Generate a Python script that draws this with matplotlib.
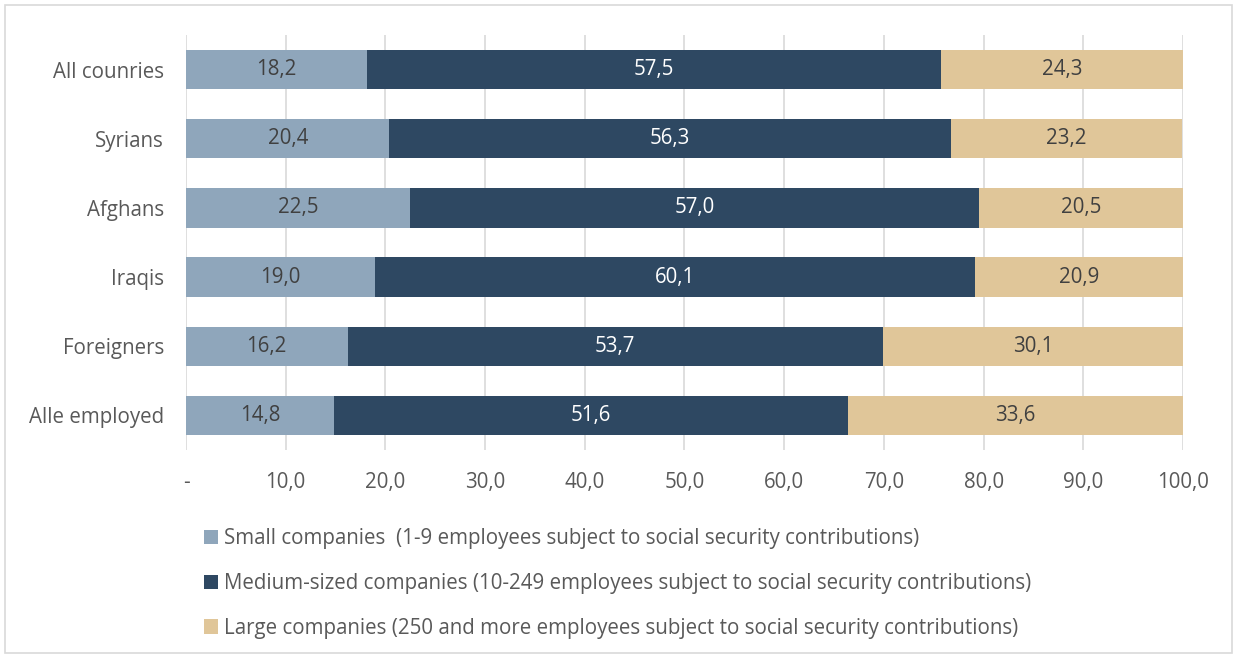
import matplotlib.pyplot as plt
from matplotlib.patches import Rectangle

plt.rcParams['font.family'] = ['Open Sans', 'DejaVu Sans']

groups = ['All counries', 'Syrians', 'Afghans', 'Iraqis', 'Foreigners', 'Alle employed']
small = [18.2, 20.4, 22.5, 19.0, 16.2, 14.8]
medium = [57.5, 56.3, 57.0, 60.1, 53.7, 51.6]
large = [24.3, 23.2, 20.5, 20.9, 30.1, 33.6]

series_names = [
    'Small companies  (1-9 employees subject to social security contributions)',
    'Medium-sized companies (10-249 employees subject to social security contributions)',
    'Large companies (250 and more employees subject to social security contributions)',
]
colors = ['#8FA6BB', '#2E4862', '#E0C699']
label_colors = ['#404040', 'white', '#404040']
txt = '#595959'
fs = 14.8

fig = plt.figure(figsize=(12.37, 6.56), dpi=100)
fig.patches.append(Rectangle((0.004, 0.004), 0.992, 0.988, transform=fig.transFigure,
                             fill=False, edgecolor='#D9D9D9', linewidth=1.2))
ax = fig.add_axes([0.1504, 0.314, 0.8059, 0.6326])

y = list(range(len(groups)))
left = [0.0] * len(groups)
for vals, name, col, lc in zip([small, medium, large], series_names, colors, label_colors):
    bars = ax.barh(y, vals, left=left, height=0.57, color=col, label=name, zorder=3)
    for b, v in zip(bars, vals):
        ax.text(b.get_x() + b.get_width() / 2, b.get_y() + b.get_height() / 2,
                f'{v:.1f}'.replace('.', ','), ha='center', va='center',
                color=lc, fontsize=fs, zorder=4)
    left = [l + v for l, v in zip(left, vals)]

ax.set_xlim(0, 100)
ax.set_ylim(5.5, -0.5)
ax.set_yticks(y)
ax.set_yticklabels(groups)
ticks = list(range(0, 101, 10))
ax.set_xticks(ticks)
ax.set_xticklabels(['-'] + [f'{t:.1f}'.replace('.', ',') for t in ticks[1:]])
ax.grid(axis='x', color='#D9D9D9', linewidth=1.2, zorder=0)
ax.tick_params(axis='y', length=0, pad=16, labelsize=fs, labelcolor=txt)
ax.tick_params(axis='x', length=0, pad=16, labelsize=fs, labelcolor=txt)
for s in ax.spines.values():
    s.set_visible(False)

fig.legend(loc='upper left', bbox_to_anchor=(0.158, 0.207), frameon=False,
           fontsize=fs, labelcolor=txt, handlelength=0.7, handleheight=0.7,
           handletextpad=0.3, labelspacing=1.15, borderaxespad=0)

fig.savefig('out.png', dpi=100)
